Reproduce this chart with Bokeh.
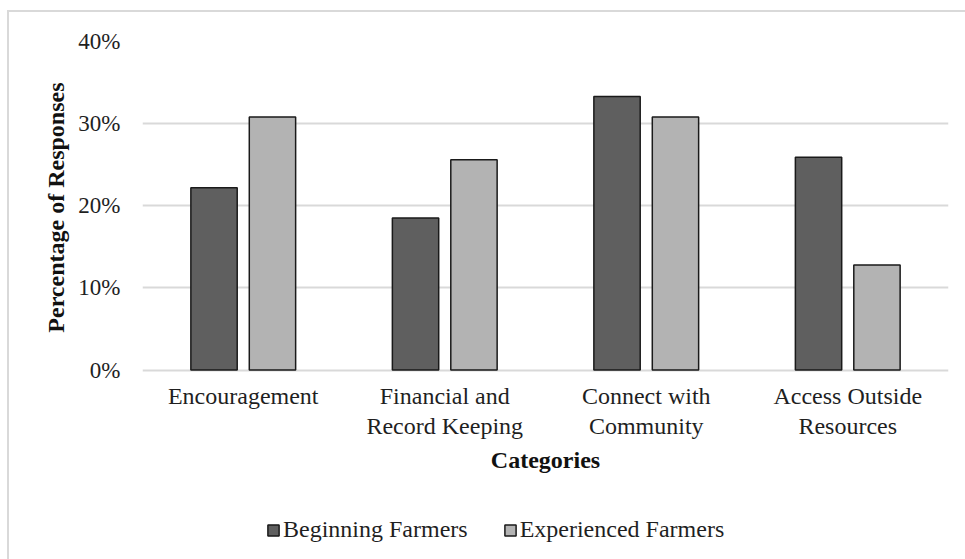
from bokeh.plotting import figure
from bokeh.models import (FactorRange, Range1d, FixedTicker, PrintfTickFormatter,
                          Legend, LegendItem, ColumnDataSource, InlineStyleSheet, Title)
from bokeh.transform import dodge
from bokeh.embed import file_html
from bokeh.resources import INLINE

# Survey categories and share of responses (%) per farmer group
categories = ["Encouragement", "Financial and\nRecord Keeping",
              "Connect with\nCommunity", "Access Outside\nResources"]
beginning = [22.2, 18.5, 33.3, 25.9]
experienced = [30.8, 25.6, 30.8, 12.8]
y_ticks = [0, 10, 20, 30, 40]
series_names = ["Beginning Farmers", "Experienced Farmers"]

FONT = "Liberation Serif"
TEXT = "#1f1f1f"
GRID = "#d9d9d9"
FS_TICK = "23px"
FS = "24px"

# page geometry (px): the frame runs to near the bottom so the category
# labels and legend can live inside it, under the zero line
W, H = 965, 559
TOP, ZERO, BOTTOM = 41, 369.6, 549
Y_MAX = 40
y_min = -Y_MAX * (BOTTOM - ZERO) / (ZERO - TOP)

source = ColumnDataSource(dict(cat=categories, beginning=beginning, experienced=experienced))

p = figure(width=W, height=H,
           x_range=FactorRange(factors=categories, range_padding=0),
           y_range=Range1d(y_min, Y_MAX),
           output_backend="svg", toolbar_location=None,
           min_border_left=142, min_border_right=17,
           min_border_top=TOP, min_border_bottom=H - BOTTOM)

r1 = p.vbar(x=dodge("cat", -0.145, range=p.x_range), top="beginning", width=0.23,
            source=source, fill_color="#5f5f5f", line_color="#1a1a1a", line_width=1.5)
r2 = p.vbar(x=dodge("cat", 0.145, range=p.x_range), top="experienced", width=0.23,
            source=source, fill_color="#b3b3b3", line_color="#1a1a1a", line_width=1.5)

p.outline_line_color = None
p.xgrid.grid_line_color = None
p.ygrid.grid_line_color = GRID
p.ygrid.grid_line_width = 2
p.ygrid.ticker = FixedTicker(ticks=y_ticks)

# y axis, limited to the 0-40% span
p.yaxis.bounds = (0, Y_MAX)
p.yaxis.ticker = FixedTicker(ticks=y_ticks)
p.yaxis.formatter = PrintfTickFormatter(format="%d%%")
p.yaxis.axis_line_color = None
p.yaxis.major_tick_line_color = None
p.yaxis.minor_tick_line_color = None
p.yaxis.major_tick_out = 0
p.yaxis.major_tick_in = 0
p.yaxis.major_label_standoff = 22
p.yaxis.major_label_text_font = FONT
p.yaxis.major_label_text_font_size = FS_TICK
p.yaxis.major_label_text_color = TEXT

# y axis title, centred on the 0-40% span rather than the whole frame
p.add_layout(Title(text="Percentage of Responses", align="right", offset=41,
                   standoff=13, text_font=FONT, text_font_size=FS,
                   text_font_style="bold", text_color="#111111"), "left")

# category axis pinned to the zero line
p.xaxis.fixed_location = 0
p.xaxis.axis_line_color = None
p.xaxis.major_tick_line_color = None
p.xaxis.major_tick_out = 0
p.xaxis.major_tick_in = 0
p.xaxis.major_label_standoff = 13
p.xaxis.major_label_text_font = FONT
p.xaxis.major_label_text_font_size = FS
p.xaxis.major_label_text_color = TEXT
p.xaxis.major_label_text_line_height = 1.15
p.xaxis.axis_label = "Categories"
p.xaxis.axis_label_text_font = FONT
p.xaxis.axis_label_text_font_size = FS
p.xaxis.axis_label_text_font_style = "bold"
p.xaxis.axis_label_text_color = "#111111"
p.xaxis.axis_label_standoff = 5

legend = Legend(items=[LegendItem(label=series_names[0], renderers=[r1]),
                       LegendItem(label=series_names[1], renderers=[r2])],
                orientation="horizontal", location=(124, 6),
                border_line_color=None, background_fill_alpha=0,
                padding=0, margin=0, glyph_width=14, glyph_height=14,
                label_standoff=3, spacing=35,
                label_text_font=FONT, label_text_font_size=FS,
                label_text_color=TEXT)
p.add_layout(legend)

# light chart-area border along the top and left
p.stylesheets = [InlineStyleSheet(css="""
:host::before {
  content: "";
  position: absolute;
  left: 7px; top: 10px; width: 1000px; height: 1000px;
  border-left: 2px solid #d9d9d9;
  border-top: 2px solid #d9d9d9;
  pointer-events: none;
  z-index: 5;
}
""")]

open("out.html", "w").write(file_html(p, INLINE))
